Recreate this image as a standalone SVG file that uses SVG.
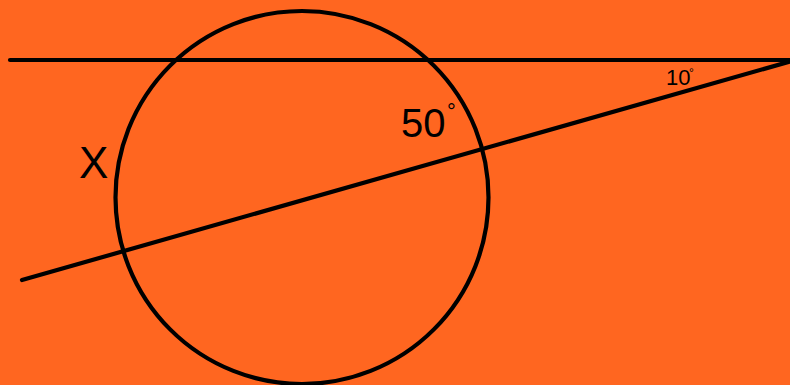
<svg xmlns="http://www.w3.org/2000/svg" width="790" height="385" viewBox="0 0 790 385">
<style>
.ln{stroke:#000;stroke-width:4.2;fill:none;stroke-linecap:round}
.t{font-family:"Liberation Sans",Arial,sans-serif;fill:#000}
</style>
<rect width="790" height="385" fill="#FF6620"/>
<g id="circle"><circle class="ln" cx="302" cy="197.5" r="186.5"/></g>
<g id="connectors">
<line class="ln" x1="10" y1="60" x2="790" y2="60"/>
<line class="ln" x1="22" y1="280" x2="790" y2="61.5"/>
</g>
<g id="label-x"><text class="t" x="79" y="178" font-size="44">X</text></g>
<g id="label-50"><text class="t" x="401" y="137" font-size="40">50</text><text class="t" x="447" y="119" font-size="22">°</text></g>
<g id="label-10"><text class="t" x="666" y="85" font-size="22">10</text><text class="t" x="689" y="77" font-size="12">°</text></g>
</svg>
